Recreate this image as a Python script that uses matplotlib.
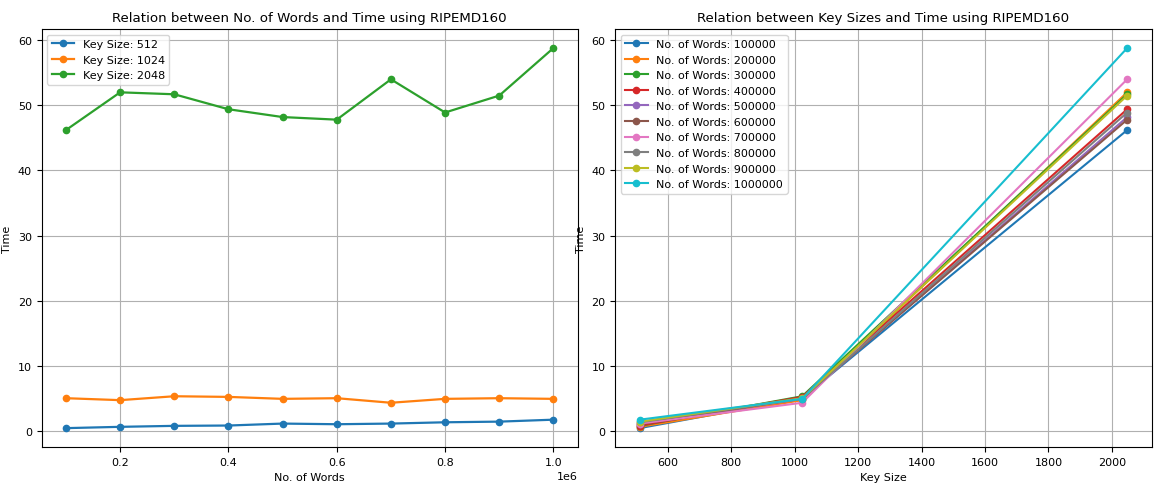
import matplotlib
matplotlib.use("Agg")
import matplotlib.pyplot as plt

# timings in seconds for RIPEMD160, per key size
words = [100000, 200000, 300000, 400000, 500000, 600000, 700000, 800000, 900000, 1000000]
key_sizes = [512, 1024, 2048]
time_512 = [0.4, 0.6, 0.75, 0.8, 1.1, 1.0, 1.1, 1.3, 1.4, 1.7]
time_1024 = [5.0, 4.7, 5.3, 5.2, 4.9, 5.0, 4.3, 4.9, 5.0, 4.9]
time_2048 = [46.2, 52.0, 51.7, 49.4, 48.2, 47.8, 54.0, 48.9, 51.5, 58.8]

plt.rcParams["font.size"] = 8

fig, (ax1, ax2) = plt.subplots(1, 2, figsize=(11.55, 4.85), dpi=100)
fig.subplots_adjust(left=0.036, right=0.997, top=0.938, bottom=0.076, wspace=0.07)

for ks, times in zip(key_sizes, [time_512, time_1024, time_2048]):
    ax1.plot(words, times, marker="o", markersize=4.5, linewidth=1.6, label=f"Key Size: {ks}")
ax1.set_title("Relation between No. of Words and Time using RIPEMD160")
ax1.set_xlabel("No. of Words")
ax1.set_ylabel("Time")
ax1.grid(True)
ax1.legend(loc="upper left")

all_times = list(zip(time_512, time_1024, time_2048))
for n, times in zip(words, all_times):
    ax2.plot(key_sizes, times, marker="o", markersize=4.5, label=f"No. of Words: {n}")
ax2.set_title("Relation between Key Sizes and Time using RIPEMD160")
ax2.set_xlabel("Key Size")
ax2.set_ylabel("Time")
ax2.grid(True)
ax2.legend(loc="upper left")

fig.savefig("out.png")
